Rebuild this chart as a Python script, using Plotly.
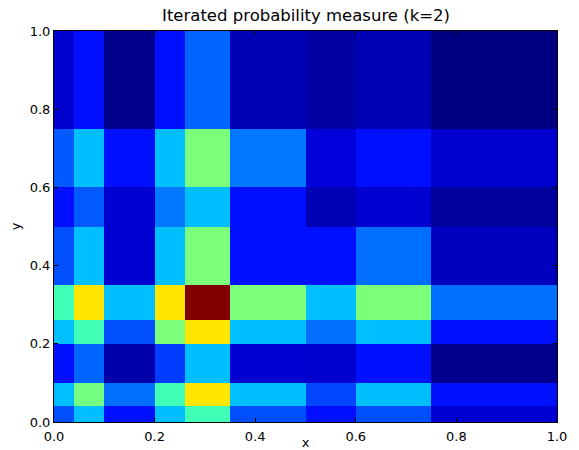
import numpy as np
import plotly.graph_objects as go

# cell edges (same partition on both axes)
x_edges = [0, 0.04, 0.1, 0.2, 0.26, 0.35, 0.5, 0.6, 0.75, 1.0]
y_edges = [0, 0.04, 0.1, 0.2, 0.26, 0.35, 0.5, 0.6, 0.75, 1.0]

# normalized density per cell (rows bottom -> top, columns left -> right)
row_0 = [0.203, 0.313, 0.141, 0.313, 0.428, 0.203, 0.141, 0.203, 0.070]
row_1 = [0.313, 0.490, 0.233, 0.428, 0.667, 0.313, 0.194, 0.313, 0.141]
row_2 = [0.141, 0.223, 0.037, 0.184, 0.313, 0.070, 0.066, 0.141, 0.011]
row_3 = [0.313, 0.428, 0.203, 0.500, 0.667, 0.313, 0.233, 0.313, 0.141]
row_4 = [0.428, 0.667, 0.313, 0.667, 1.000, 0.500, 0.313, 0.500, 0.233]
row_5 = [0.203, 0.313, 0.070, 0.313, 0.500, 0.141, 0.141, 0.233, 0.054]
row_6 = [0.141, 0.213, 0.070, 0.243, 0.313, 0.141, 0.045, 0.070, 0.024]
row_7 = [0.213, 0.313, 0.141, 0.313, 0.500, 0.243, 0.079, 0.141, 0.066]
row_8 = [0.066, 0.141, 0.011, 0.141, 0.223, 0.045, 0.030, 0.045, 0.000]
z = [row_0, row_1, row_2, row_3, row_4, row_5, row_6, row_7, row_8]

x_ticks = [0.0, 0.2, 0.4, 0.6, 0.8, 1.0]
y_ticks = [0.0, 0.2, 0.4, 0.6, 0.8, 1.0]

# matplotlib "jet" colormap
jet = {
    "r": [(0, 0), (0.35, 0), (0.66, 1), (0.89, 1), (1, 0.5)],
    "g": [(0, 0), (0.125, 0), (0.375, 1), (0.64, 1), (0.91, 0), (1, 0)],
    "b": [(0, 0.5), (0.11, 1), (0.34, 1), (0.65, 0), (1, 0)],
}
stops = sorted(set(p for ch in jet.values() for p, _ in ch))
def chan(ch, v):
    xs = [p for p, _ in jet[ch]]
    ys = [c for _, c in jet[ch]]
    return float(np.interp(v, xs, ys))
colorscale = [[s, "rgb(%d,%d,%d)" % tuple(round(255 * chan(c, s)) for c in "rgb")] for s in stops]

font = "DejaVu Sans"
fig = go.Figure(go.Heatmap(
    x=x_edges, y=y_edges, z=z, zmin=0, zmax=1,
    colorscale=colorscale, showscale=False, hoverinfo="skip",
))

axis_common = dict(
    range=[0, 1], ticks="inside", ticklen=4, tickwidth=1, tickcolor="black",
    showline=True, linecolor="black", linewidth=1, mirror="ticks",
    showgrid=False, zeroline=False, tickformat=".1f", automargin=False,
    tickfont=dict(family=font, size=13, color="black"),
)
fig.update_xaxes(tickvals=x_ticks, ticklabelstandoff=2,
                 title=dict(text="x", font=dict(family=font, size=13, color="black"), standoff=5), **axis_common)
fig.update_yaxes(tickvals=y_ticks, ticklabelstandoff=0,
                 title=dict(text="y", font=dict(family=font, size=13, color="black"), standoff=6), **axis_common)

fig.update_layout(
    width=579, height=450,
    margin=dict(l=54, r=22, t=31, b=28),
    paper_bgcolor="white", plot_bgcolor="white",
    title=dict(text="Iterated probability measure (k=2)", x=306 / 579, xanchor="center",
               y=1 - 15 / 450, yanchor="middle", font=dict(family=font, size=16.5, color="black")),
)
fig.write_html("out.html")
